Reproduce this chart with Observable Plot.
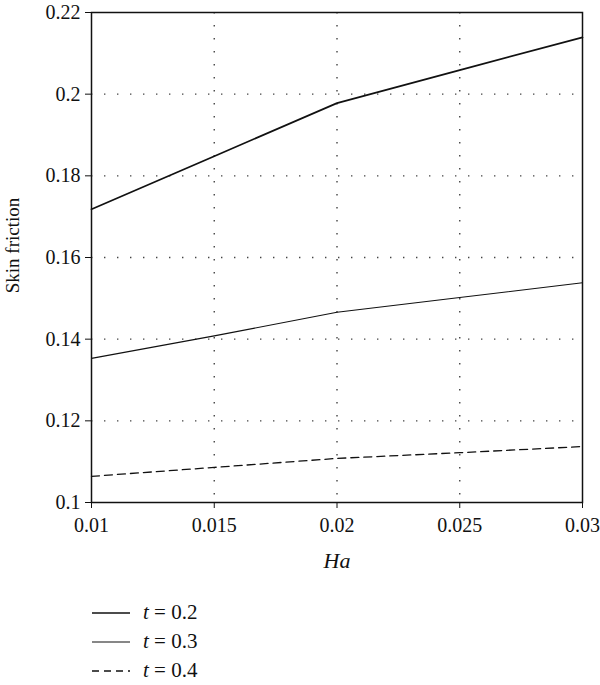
<!DOCTYPE html>
<html><head><meta charset="utf-8">
<script src="https://cdn.jsdelivr.net/npm/d3@7"></script>
<script src="https://cdn.jsdelivr.net/npm/@observablehq/plot@0.6"></script>
<style>
body{margin:0;background:#fff;font-family:"Liberation Serif",serif;color:#111;}
#legend{padding:8px 0 0 92px;}
.row{height:29px;display:flex;align-items:center;font-size:21px;}
.row svg{margin-right:13px;}
</style></head><body>
<div id="chart"></div>
<div id="legend"></div>
<script>
const ha = [0.01, 0.015, 0.02, 0.025, 0.03];
const t02 = [0.1718, 0.1848, 0.1978, 0.2059, 0.2139];
const t03 = [0.1353, 0.1408, 0.1466, 0.1502, 0.1538];
const t04 = [0.1064, 0.1086, 0.1108, 0.1122, 0.1137];
const seriesNames = ["0.2", "0.3", "0.4"];
const xTicks = [0.01, 0.015, 0.02, 0.025, 0.03];
const xTickLabels = ["0.01", "0.015", "0.02", "0.025", "0.03"];
const yTicks = [0.1, 0.12, 0.14, 0.16, 0.18, 0.2, 0.22];
const yTickLabels = ["0.1", "0.12", "0.14", "0.16", "0.18", "0.2", "0.22"];
const xGrid = [0.015, 0.02, 0.025];
const yGrid = [0.12, 0.14, 0.16, 0.18, 0.2];

const seriesValues = [t02, t03, t04];
const styles = [
  {width: 1.7, dash: null},
  {width: 1.1, dash: null},
  {width: 1.3, dash: "8,5"}
];
const data = seriesNames.flatMap((s, i) => ha.map((h, j) => ({t: s, ha: h, v: seriesValues[i][j]})));

const marks = [
  Plot.gridX(xGrid, {stroke: "#444", strokeOpacity: 1, strokeWidth: 1.4, strokeDasharray: "1.4,11.6"}),
  Plot.gridY(yGrid, {stroke: "#444", strokeOpacity: 1, strokeWidth: 1.4, strokeDasharray: "1.4,11.6"}),
  Plot.frame({stroke: "#111", strokeWidth: 1.5}),
  Plot.axisX(xTicks, {tickSize: 6, tickPadding: 9, tickFormat: (d, i) => xTickLabels[i], fontSize: 20, label: null, stroke: "#111"}),
  Plot.axisY(yTicks, {tickSize: 6, tickPadding: 5, tickFormat: (d, i) => yTickLabels[i], fontSize: 20, label: null, stroke: "#111"}),
  ...seriesNames.map((s, i) => Plot.line(data.filter(d => d.t === s), {
    x: "ha", y: "v", stroke: "#111", strokeWidth: styles[i].width, strokeDasharray: styles[i].dash
  })),
  Plot.text(["Ha"], {frameAnchor: "bottom", lineAnchor: "middle", dy: 58, fontStyle: "italic", fontSize: 22, fill: "#111"}),
  Plot.text(["Skin friction"], {frameAnchor: "left", textAnchor: "middle", lineAnchor: "middle", dx: -79, dy: -12, rotate: -90, fontSize: 19, fill: "#111"})
];

const chart = Plot.plot({
  width: 600, height: 590,
  marginLeft: 91, marginRight: 18, marginTop: 12, marginBottom: 88,
  style: {fontFamily: "Liberation Serif", fontSize: "20px", color: "#111", background: "white"},
  x: {domain: [0.01, 0.03]},
  y: {domain: [0.1, 0.22]},
  marks
});
document.getElementById("chart").append(chart);

const legend = document.getElementById("legend");
seriesNames.forEach((s, i) => {
  const row = document.createElement("div");
  row.className = "row";
  const dash = styles[i].dash ? ` stroke-dasharray="7,5"` : "";
  row.innerHTML = `<svg width="38" height="10"><line x1="0" x2="38" y1="5" y2="5" stroke="#111" stroke-width="${styles[i].width}"${dash}/></svg><span><i>t</i> = ${s}</span>`;
  legend.append(row);
});
</script>
</body></html>
